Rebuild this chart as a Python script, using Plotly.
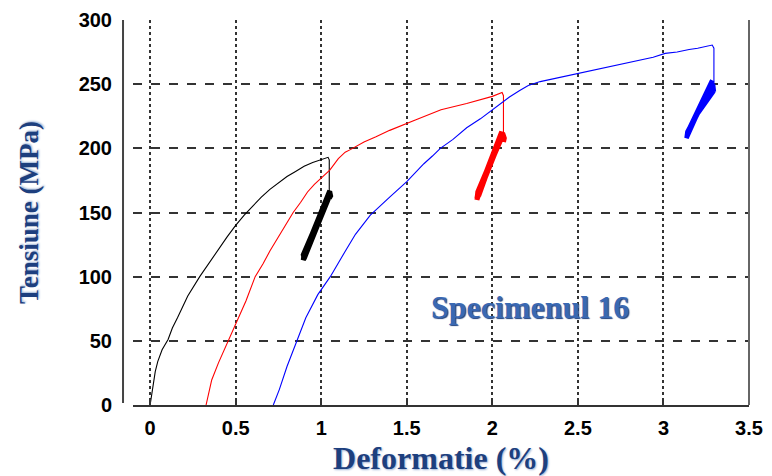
import plotly.graph_objects as go

# ---- data ----
x_ticks = [0, 0.5, 1, 1.5, 2, 2.5, 3, 3.5]
x_tick_labels = ["0", "0.5", "1", "1.5", "2", "2.5", "3", "3.5"]
y_ticks = [0, 50, 100, 150, 200, 250, 300]
y_tick_labels = ["0", "50", "100", "150", "200", "250", "300"]

black_x = [0, 0.01, 0.02, 0.03, 0.045, 0.07, 0.105, 0.13, 0.16, 0.22, 0.29, 0.35, 0.4, 0.45, 0.5, 0.55,
           0.6, 0.65, 0.7, 0.75, 0.8, 0.85, 0.9, 0.95, 1.0, 1.04, 1.047, 1.047]
black_y = [0, 9, 18, 26, 34, 43, 51, 60, 68, 85, 100, 112, 122, 131, 140, 148,
           155, 162, 168, 173, 178, 182, 186, 189, 191, 193, 191, 161]
black_loop_x = [1.047, 1.055, 1.05, 0.895, 0.9, 1.045, 1.04, 0.905, 0.91, 1.05, 1.045, 0.9, 0.895, 1.04]
black_loop_y = [161, 163, 166, 113, 118, 164, 160, 116, 121, 167, 162, 114, 117, 162]

red_x = [0.327, 0.34, 0.36, 0.4, 0.456, 0.5, 0.56, 0.614, 0.66, 0.7, 0.74, 0.78, 0.836, 0.88, 0.92, 0.96,
         1.0, 1.05, 1.1, 1.14, 1.17, 1.25, 1.32, 1.4, 1.55, 1.7, 1.85, 2.0, 2.057, 2.065, 2.065]
red_y = [0, 8, 19.5, 33, 50, 63, 81, 100, 110, 120, 129, 138, 150, 158, 166, 172,
         177, 183, 192, 197, 199, 205, 209, 214, 222, 230, 235, 240.5, 243.5, 241, 205]
red_loop_x = [2.065, 2.07, 2.06, 1.915, 1.91, 2.04, 2.05, 1.92, 1.925, 2.055, 2.045, 1.91, 1.915, 2.06, 2.065]
red_loop_y = [205, 208, 212, 166, 160, 206, 211, 163, 168, 213, 206, 161, 165, 210, 207]

blue_x = [0.72, 0.755, 0.8, 0.85, 0.91, 0.98, 1.053, 1.15, 1.2, 1.287, 1.35, 1.4, 1.5, 1.55, 1.6, 1.65,
          1.696, 1.77, 1.85, 1.93, 2.0, 2.05, 2.1, 2.16, 2.21, 2.28, 2.35, 2.43, 2.515, 2.6, 2.7, 2.78,
          2.865, 2.94, 3.01, 3.08, 3.15, 3.2, 3.285, 3.295, 3.295]
blue_y = [0, 12, 30, 48, 68, 86, 100, 122, 133, 148, 156, 162, 174, 181, 188, 194,
          200, 207, 216, 223, 230, 235, 240, 245, 249, 252, 254, 256, 259, 261, 264, 266,
          269, 271, 274, 275, 277, 278, 280.5, 278, 244]
blue_loop_x = [3.295, 3.29, 3.14, 3.135, 3.27, 3.285, 3.145, 3.14, 3.28, 3.29, 3.2, 3.15, 3.14, 3.285]
blue_loop_y = [244, 250, 213, 208, 248, 253, 214, 210, 251, 244, 227, 214, 211, 252]

label_text = "Specimenul 16"
label_pos = (2.22, 76)

# ---- figure ----
fig = go.Figure()

def add_line(x, y, color, width):
    fig.add_trace(go.Scatter(x=x, y=y, mode="lines", line=dict(color=color, width=width),
                             hoverinfo="skip", showlegend=False))

add_line(black_x, black_y, "#000000", 1.1)
add_line(black_loop_x, black_loop_y, "#000000", 5)
add_line(red_x, red_y, "#ff0000", 1.1)
add_line(red_loop_x, red_loop_y, "#ff0000", 5)
add_line(blue_x, blue_y, "#0000ff", 1.1)
add_line(blue_loop_x, blue_loop_y, "#0000ff", 4.5)

title_color = "#1d3f7e"
tick_font = dict(family="Liberation Sans, Arial, sans-serif", size=20, color="#000000", weight="bold")
title_family = "Liberation Serif, Times New Roman, serif"

# the page body has an 8px margin, so the figure is sized/offset accordingly
fig.update_layout(
    width=764, height=468,
    margin=dict(l=125, r=23, t=12, b=71, autoexpand=False),
    paper_bgcolor="white", plot_bgcolor="white",
    showlegend=False,
    xaxis=dict(
        range=[-0.1, 3.5], tickvals=x_ticks, ticktext=x_tick_labels,
        showgrid=True, gridcolor="#333333", gridwidth=1.5, griddash="dot",
        zeroline=False, showline=True, linecolor="#333333", linewidth=1.5,
        ticks="inside", ticklen=6, tickcolor="#333333", tickwidth=1.5,
        tickfont=tick_font, ticklabelstandoff=4,
        title=dict(text="Deformatie (%)", standoff=14,
                   font=dict(family=title_family, size=32, color=title_color, weight="bold",
                             shadow="1px 1px 2px #9db3d6")),
        automargin=False,
    ),
    yaxis=dict(
        range=[0, 300], tickvals=y_ticks, ticktext=y_tick_labels,
        showgrid=True, gridcolor="#333333", gridwidth=1.5, griddash="dash",
        zeroline=False, showline=False,
        ticks="", tickfont=tick_font, ticklabelstandoff=20,
        title=dict(text="Tensiune (MPa)", standoff=32,
                   font=dict(family=title_family, size=27, color=title_color, weight="bold",
                             shadow="1px 1px 2px #9db3d6")),
        automargin=False,
    ),
    shapes=[
        dict(type="line", xref="paper", yref="paper", x0=-0.0162, x1=-0.0162, y0=0.005, y1=1,
             line=dict(color="#444444", width=2), layer="above"),
        dict(type="line", xref="paper", yref="paper", x0=1, x1=1, y0=0, y1=1,
             line=dict(color="#666666", width=2), layer="above"),
    ],
    annotations=[
        dict(x=label_pos[0], y=label_pos[1], xref="x", yref="y", text=label_text, showarrow=False,
             font=dict(family=title_family, size=32, color="#3a68b2", weight="bold",
                       shadow="1px 1px 1px #1d3f7e")),
    ],
)

fig.write_html("out.html")
